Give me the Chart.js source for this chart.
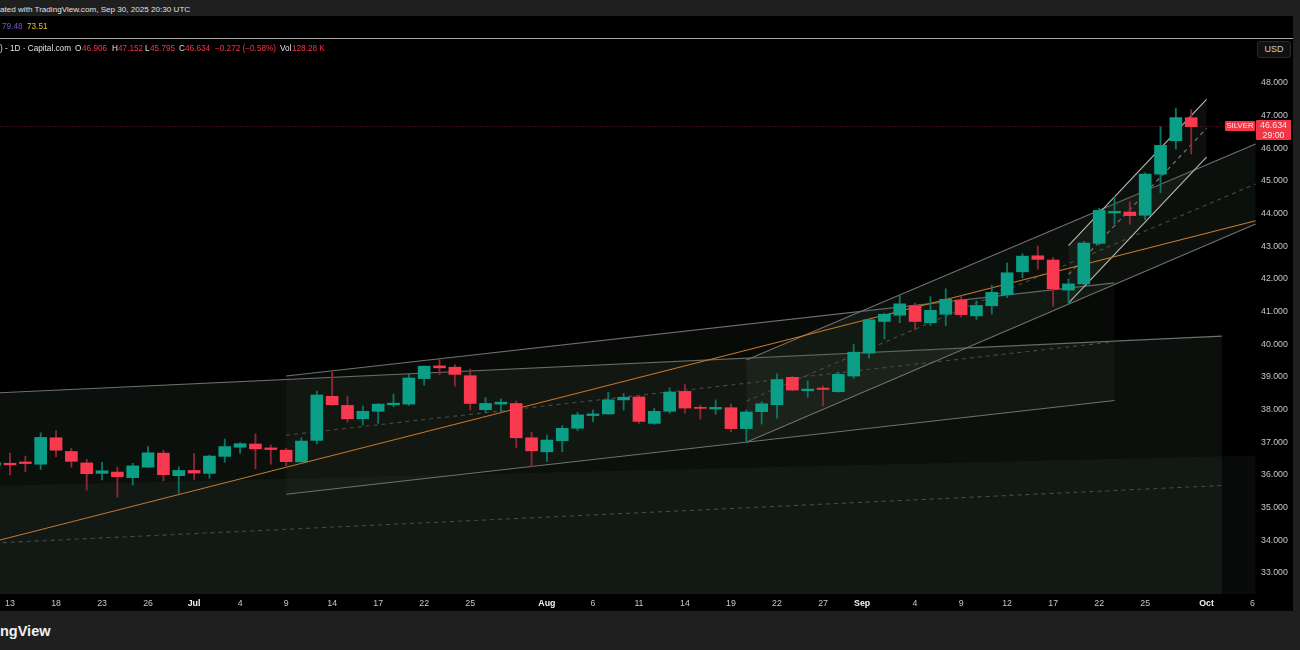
<!DOCTYPE html>
<html>
<head>
<meta charset="utf-8">
<script src="https://cdn.jsdelivr.net/npm/chart.js@4"></script>
<style>
html,body{margin:0;padding:0;width:1300px;height:650px;overflow:hidden;background:#1f1f1f;font-family:"Liberation Sans",Arial,sans-serif}
#panel{position:absolute;left:0;top:16px;width:1293px;height:595px;background:#000}
#rule{position:absolute;left:0;top:38px;width:1293px;height:1px;background:#a8a8a8}
canvas{position:absolute;left:0;top:39px}
.t{position:absolute;white-space:nowrap;line-height:1}
.l{top:44.5px;font-size:8.2px;color:#e0e0e0}
.r{top:44.5px;font-size:8.2px;color:#f23645}
</style>
</head>
<body>
<div id="panel"></div>
<div id="rule"></div>
<canvas id="c" width="1293" height="572"></canvas>

<div class="t" style="left:0;top:5.5px;font-size:8.1px;color:#e0e0e0">ated with TradingView.com, Sep 30, 2025 20:30 UTC</div>
<div class="t" style="left:2px;top:23px;font-size:8.2px;color:#7e57c2">79.48</div>
<div class="t" style="left:27px;top:23px;font-size:8.2px;color:#e6c321">73.51</div>

<div class="t l" style="left:0">) - 1D · Capital.com</div>
<div class="t l" style="left:75px">O</div>
<div class="t r" style="left:82px">46.906</div>
<div class="t l" style="left:112px">H</div>
<div class="t r" style="left:118px">47.152</div>
<div class="t l" style="left:145px">L</div>
<div class="t r" style="left:150px">45.795</div>
<div class="t l" style="left:179px">C</div>
<div class="t r" style="left:185px">46.634</div>
<div class="t r" style="left:215px">−0.272 (−0.58%)</div>
<div class="t l" style="left:280px">Vol</div>
<div class="t r" style="left:292px">128.28 K</div>

<div class="t" style="left:1257px;top:41px;width:32px;height:15px;line-height:15px;text-align:center;font-size:9px;color:#cfcfcf;background:#111;border:1px solid #2a2a2a;border-radius:3px">USD</div>

<div class="t" style="left:1225px;top:121px;width:30px;height:10px;line-height:10px;text-align:center;font-size:7.8px;color:#ffe6e8;background:#f23645;border-radius:1px">SILVER</div>
<div class="t" style="left:1256px;top:120px;width:35px;height:20px;background:#f23645;border-radius:1px;color:#ffe6e8;font-size:8.8px;text-align:center;line-height:10px;white-space:pre">46.634
29:00</div>

<div class="t" style="left:0;top:624px;font-size:14.5px;font-weight:bold;color:#f0f0f0">ngView</div>

<script>
// Trading days, one per candle; the first one sits at axis position -1
const dates = ['Jun 12','Jun 13','Jun 16','Jun 17','Jun 18','Jun 19','Jun 20','Jun 23','Jun 24','Jun 25','Jun 26','Jun 27','Jun 30',
'Jul 1','Jul 2','Jul 3','Jul 4','Jul 7','Jul 8','Jul 9','Jul 10','Jul 11','Jul 14','Jul 15','Jul 16','Jul 17','Jul 18','Jul 21','Jul 22','Jul 23','Jul 24','Jul 25','Jul 28','Jul 29','Jul 30','Jul 31',
'Aug 1','Aug 4','Aug 5','Aug 6','Aug 7','Aug 8','Aug 11','Aug 12','Aug 13','Aug 14','Aug 15','Aug 18','Aug 19','Aug 20','Aug 21','Aug 22','Aug 25','Aug 26','Aug 27','Aug 28','Aug 29',
'Sep 1','Sep 2','Sep 3','Sep 4','Sep 5','Sep 8','Sep 9','Sep 10','Sep 11','Sep 12','Sep 15','Sep 16','Sep 17','Sep 18','Sep 19','Sep 22','Sep 23','Sep 24','Sep 25','Sep 26','Sep 29','Sep 30'];

const opens = [36.27,36.33,36.37,36.30,37.11,36.69,36.34,36.02,36.06,35.89,36.21,36.64,35.95,36.11,36.02,36.54,36.82,36.92,36.80,36.73,36.37,37.03,38.38,38.10,37.69,37.92,38.12,38.14,38.92,39.31,39.27,39.01,37.97,38.14,38.16,37.11,36.68,37.02,37.40,37.79,37.84,38.27,38.36,37.55,37.92,38.53,38.04,37.99,38.03,37.39,37.91,38.12,38.96,38.55,38.63,38.52,39.00,39.70,40.67,40.86,41.15,40.63,40.89,41.33,40.84,41.15,41.49,42.19,42.68,42.55,41.63,41.82,43.06,43.99,44.02,43.92,45.18,46.20,46.906];
const closes = [36.34,36.28,36.32,37.12,36.73,36.39,36.01,36.10,35.92,36.25,36.65,35.98,36.11,36.03,36.55,36.84,36.93,36.77,36.75,36.38,37.01,38.42,38.12,37.69,37.92,38.14,38.17,38.94,39.30,39.25,39.05,38.16,38.16,38.20,37.11,36.71,37.04,37.40,37.81,37.84,38.27,38.35,37.61,37.92,38.51,38.02,38.01,38.04,37.39,37.90,38.15,38.89,38.57,38.60,38.59,39.05,39.73,40.72,40.89,41.21,40.67,41.01,41.35,40.88,41.16,41.56,42.16,42.67,42.57,41.67,41.82,43.07,44.07,44.04,43.91,45.18,46.06,46.91,46.634];
const highs = [36.55,36.64,36.55,37.26,37.32,36.79,36.45,36.36,36.21,36.33,36.84,36.73,36.22,36.63,36.58,37.07,36.96,37.23,36.89,36.79,37.11,38.54,39.13,38.39,38.08,38.16,38.45,39.06,39.31,39.52,39.35,39.21,38.34,38.30,38.24,37.28,37.19,37.48,37.89,37.96,38.50,38.47,38.39,38.01,38.64,38.75,38.11,38.27,38.14,37.96,38.21,39.07,39.00,38.86,38.70,39.12,39.97,40.75,40.92,41.46,41.23,41.43,41.67,41.45,41.30,41.78,42.46,42.74,42.98,42.63,41.97,43.12,44.13,44.49,44.34,45.22,46.63,47.19,47.152];
const lows = [36.12,35.97,36.07,36.14,36.53,36.21,35.51,35.82,35.29,35.66,36.21,35.79,35.41,35.82,35.87,36.36,36.63,36.16,36.30,36.25,36.37,36.92,38.10,37.59,37.50,37.55,38.06,38.10,38.72,39.04,38.69,37.96,37.89,37.91,36.80,36.22,36.38,36.68,37.33,37.60,37.83,37.96,37.55,37.52,37.86,37.86,37.68,37.83,37.29,36.97,37.53,37.71,38.55,38.35,38.09,38.50,38.93,39.55,40.13,40.63,40.41,40.55,40.54,40.80,40.73,40.90,41.40,42.01,42.27,41.14,41.23,41.81,43.01,43.64,43.65,43.78,44.61,45.95,45.795];

// Axis labels and the positions they sit at (0 = Jun 13)
const xTickPositions = [0,3,6,9,12,15,18,21,24,27,30,35,38,41,44,47,50,53,55.55,59,62,65,68,71,74,78,81];
const xTickLabels = ['13','18','23','26','Jul','4','9','14','17','22','25','Aug','6','11','14','19','22','27','Sep','4','9','12','17','22','25','Oct','6'];
const monthLabels = ['Jul','Aug','Sep','Oct'];
const yTickValues = [33,34,35,36,37,38,39,40,41,42,43,44,45,46,47,48];
const lastPrice = 46.634;

// Drawn objects, as [axis position, price] pairs
const channelCTop = [[-1,38.48],[79,40.22]];
const channelCMid = [[-1,33.89],[79,35.65]];
const channelGTop = [[-1,35.64],[81.2,36.57]];
const channelBTop = [[18,39.00],[72,41.85]];
const channelBMid = [[18,37.19],[72,40.05]];
const channelBBot = [[18,35.38],[72,38.25]];
const channelETop = [[48,39.49],[81.2,46.10]];
const channelEMid = [[48,38.23],[81.2,44.88]];
const channelEBot = [[48,36.97],[81.2,43.65]];
const channelFTop = [[69,42.99],[78,47.47]];
const channelFMid = [[69,42.11],[78,46.58]];
const channelFBot = [[69,41.235],[78,45.70]];
const orangeTrend = [[-1,33.94],[81.2,43.75]];
const priceLine = [[-1,lastPrice],[79.4,lastPrice]];

const UP='#0a9f86', DOWN='#f8394f', UPW='#0b7564', DOWNW='#8f2636';
const pts = a => a.map(p=>({x:p[0],y:p[1]}));
const isUp = i => closes[i]>=opens[i];

function line(points, color, extra){
  return Object.assign({type:'line',data:pts(points),borderColor:color,borderWidth:1.1,pointRadius:0,fill:false,order:10,tension:0},extra||{});
}
const DASH=[4,4], GRAY='rgb(112,112,112)', DIM='rgb(72,74,72)', BRIGHT='rgb(185,185,180)';

const datasets = [
  line(channelCTop,GRAY,{fill:'start',backgroundColor:'rgba(60,80,60,0.2)',order:20}),
  line(channelGTop,'rgba(0,0,0,0)',{fill:'start',backgroundColor:'rgba(58,80,62,0.14)',order:19,borderWidth:0}),
  line(channelCMid,DIM,{borderDash:DASH,order:18}),
  line(channelBTop,GRAY,{fill:'+2',backgroundColor:'rgba(60,80,60,0.13)',order:17}),
  line(channelBMid,DIM,{borderDash:DASH,order:16}),
  line(channelBBot,GRAY,{order:15}),
  line(channelETop,GRAY,{fill:'+2',backgroundColor:'rgba(60,80,60,0.2)',order:14}),
  line(channelEMid,DIM,{borderDash:DASH,order:13}),
  line(channelEBot,GRAY,{order:12}),
  line(channelFTop,BRIGHT,{fill:'+2',backgroundColor:'rgba(60,80,60,0.2)',order:11}),
  line(channelFMid,'rgb(125,125,120)',{borderDash:DASH,order:10}),
  line(channelFBot,BRIGHT,{order:9}),
  line(orangeTrend,'#c77a2b',{order:8}),
  line(priceLine,'rgb(110,18,30)',{borderDash:[1,2],order:7}),
  {type:'bar',data:highs.map((h,i)=>({x:i-1,y:[lows[i],h]})),backgroundColor:highs.map((h,i)=>isUp(i)?UPW:DOWNW),barThickness:1.2,grouped:false,order:2},
  {type:'bar',data:closes.map((c,i)=>({x:i-1,y:[opens[i],c]})),backgroundColor:closes.map((c,i)=>isUp(i)?UP:DOWN),barThickness:12,grouped:false,order:1}
];

new Chart(document.getElementById('c'),{
  type:'bar',
  data:{datasets},
  options:{
    responsive:false,animation:false,devicePixelRatio:1,
    layout:{padding:0},
    plugins:{legend:{display:false},tooltip:{enabled:false}},
    scales:{
      x:{type:'linear',offset:false,min:-0.652,max:81.29,
        grid:{display:false,drawTicks:false},border:{display:false},
        afterBuildTicks:s=>{s.ticks=xTickPositions.map(v=>({value:v}));},
        afterFit:s=>{s.height=17;s.paddingLeft=0;s.paddingRight=0;},
        ticks:{autoSkip:false,maxRotation:0,padding:4,
          callback:v=>xTickLabels[xTickPositions.indexOf(v)],
          color:c=>monthLabels.includes(xTickLabels[c.index])?'#f2f2f2':'#c6c6c6',
          font:c=>({family:'"Liberation Sans",Arial,sans-serif',size:8.8,weight:monthLabels.includes(xTickLabels[c.index])?'bold':'normal'})
        }
      },
      y:{type:'linear',position:'right',min:32.328,max:49.316,
        grid:{display:false,drawTicks:false},border:{display:false},
        afterBuildTicks:s=>{s.ticks=yTickValues.map(v=>({value:v}));},
        afterFit:s=>{s.width=36;s.paddingTop=0;s.paddingBottom=0;},
        ticks:{padding:4,labelOffset:0.8,color:'#c6c6c6',font:{family:'"Liberation Sans",Arial,sans-serif',size:8.8},
          callback:v=>v.toFixed(3)}
      }
    }
  }
});
</script>
</body>
</html>
